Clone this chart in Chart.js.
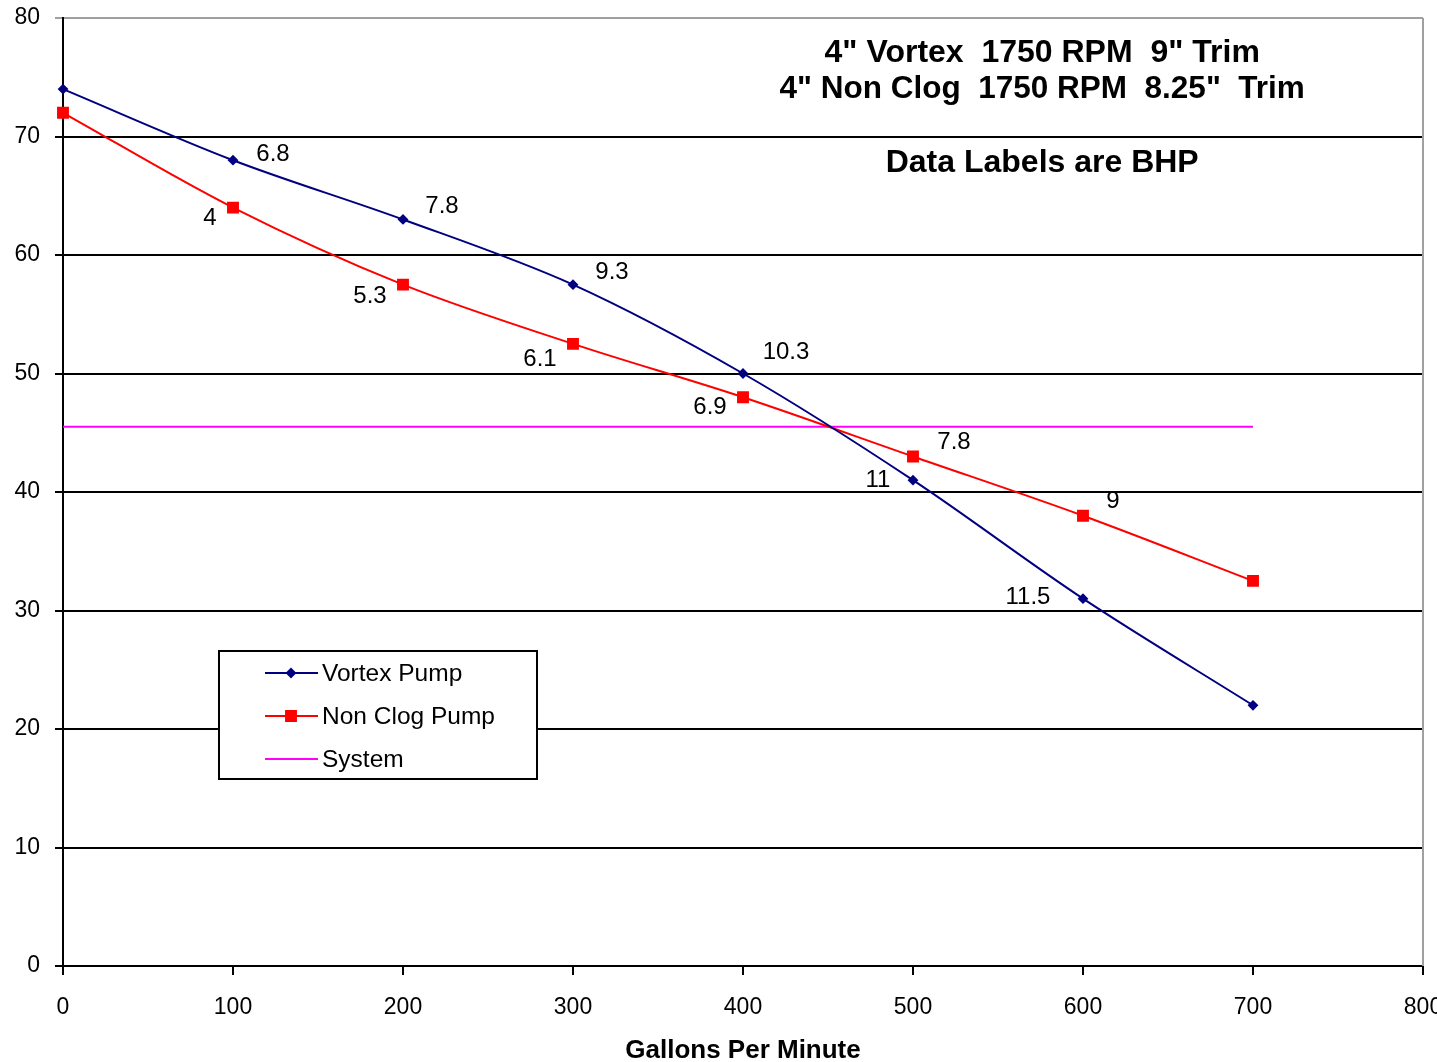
<!DOCTYPE html>
<html>
<head>
<meta charset="utf-8">
<title>Pump Curves</title>
<script src="https://cdn.jsdelivr.net/npm/chart.js@4"></script>
<style>
  html, body { margin: 0; padding: 0; background: #fff; overflow: hidden; }
  canvas { display: block; }
</style>
</head>
<body>
<canvas id="pump-chart" width="1460" height="1080"></canvas>
<script>
// flow rates (gpm) and heads (ft) for both pumps plus the system line
const gpm = [0, 100, 200, 300, 400, 500, 600, 700];
const vortexHead = [74, 68, 63, 57.5, 50, 41, 31, 22];
const nonClogHead = [72, 64, 57.5, 52.5, 48, 43, 38, 32.5];
const systemHead = [45.5, 45.5];
const systemGpm = [0, 700];

// brake horsepower shown next to each point
const vortexBhp = [null, 6.8, 7.8, 9.3, 10.3, 11, 11.5, null];
const nonClogBhp = [null, 4, 5.3, 6.1, 6.9, 7.8, 9, null];

const xTicks = [0, 100, 200, 300, 400, 500, 600, 700, 800];
const yTicks = [0, 10, 20, 30, 40, 50, 60, 70, 80];

const titleLines = ['4" Vortex  1750 RPM  9" Trim', '4" Non Clog  1750 RPM  8.25"  Trim'];
const noteText = 'Data Labels are BHP';

// where each bhp label sits relative to its point
const vortexLabelOffset = [null, [40, -6], [39, -13], [39, -12], [43, -21], [-35, 0], [-55, -1], null];
const nonClogLabelOffset = [null, [-23, 11], [-33, 12], [-33, 15], [-33, 10], [41, -14], [30, -14], null];

const FONT = '"Liberation Sans", Arial, sans-serif';

const toXY = (xs, ys) => xs.map((x, i) => ({ x: x, y: ys[i] }));

// frame, titles, bhp labels and the boxed legend
const extras = {
  id: 'extras',
  beforeDatasetsDraw(chart) {
    const { ctx, chartArea: a } = chart;
    ctx.save();
    ctx.strokeStyle = '#a0a0a0';
    ctx.lineWidth = 2;
    ctx.beginPath();
    ctx.moveTo(a.right, a.top);
    ctx.lineTo(a.right, a.bottom);
    ctx.stroke();
    ctx.restore();
  },
  afterDatasetsDraw(chart) {
    const { ctx } = chart;
    const xs = chart.scales.x;
    ctx.save();

    // bhp data labels
    ctx.font = '24px ' + FONT;
    ctx.fillStyle = '#000';
    ctx.textAlign = 'center';
    ctx.textBaseline = 'middle';
    [[0, vortexBhp, vortexLabelOffset], [1, nonClogBhp, nonClogLabelOffset]].forEach(([di, vals, offs]) => {
      const pts = chart.getDatasetMeta(di).data;
      vals.forEach((v, i) => {
        if (v === null) return;
        ctx.fillText(String(v), pts[i].x + offs[i][0], pts[i].y + offs[i][1]);
      });
    });

    // heading text
    const cx = xs.getPixelForValue(576);
    ctx.font = 'bold 32px ' + FONT;
    ctx.fillText(titleLines[0], cx, 53);
    ctx.font = 'bold 31.5px ' + FONT;
    ctx.fillText(titleLines[1], cx, 89);
    ctx.font = 'bold 32px ' + FONT;
    ctx.fillText(noteText, cx, 163);

    // legend box
    const lx = 219, ly = 651, lw = 318, lh = 128;
    ctx.fillStyle = '#fff';
    ctx.fillRect(lx, ly, lw, lh);
    ctx.strokeStyle = '#000';
    ctx.lineWidth = 2;
    ctx.strokeRect(lx, ly, lw, lh);
    ctx.font = '24.5px ' + FONT;
    ctx.textAlign = 'left';
    chart.data.datasets.forEach((ds, i) => {
      const y = ly + 22 + i * 43;
      ctx.strokeStyle = ds.borderColor;
      ctx.lineWidth = ds.borderWidth;
      ctx.beginPath();
      ctx.moveTo(lx + 46, y);
      ctx.lineTo(lx + 99, y);
      ctx.stroke();
      if (ds.pointRadius > 0) {
        Chart.helpers.drawPoint(ctx, {
          pointStyle: ds.pointStyle,
          radius: ds.pointRadius,
          borderWidth: 1,
          rotation: 0
        }, lx + 72, y);
        ctx.fillStyle = ds.pointBackgroundColor;
        ctx.fill();
      }
      ctx.fillStyle = '#000';
      ctx.fillText(ds.label, lx + 103, y + 1);
    });
    ctx.restore();
  }
};

const config = {
  type: 'line',
  data: {
    datasets: [
      {
        label: 'Vortex Pump',
        data: toXY(gpm, vortexHead),
        borderColor: '#000080',
        backgroundColor: '#000080',
        pointBackgroundColor: '#000080',
        pointBorderColor: '#000080',
        pointStyle: 'rectRot',
        pointRadius: 4,
        borderWidth: 2,
        tension: 0.33,
        clip: false,
        fill: false
      },
      {
        label: 'Non Clog Pump',
        data: toXY(gpm, nonClogHead),
        borderColor: '#ff0000',
        backgroundColor: '#ff0000',
        pointBackgroundColor: '#ff0000',
        pointBorderColor: '#ff0000',
        pointStyle: 'rect',
        pointRadius: 7,
        borderWidth: 2,
        tension: 0.33,
        clip: false,
        fill: false
      },
      {
        label: 'System',
        data: toXY(systemGpm, systemHead),
        borderColor: '#ff00ff',
        backgroundColor: '#ff00ff',
        pointRadius: 0,
        borderWidth: 2,
        fill: false
      }
    ]
  },
  options: {
    responsive: false,
    animation: false,
    layout: { padding: { left: 0, top: 18, right: 37, bottom: 0 } },
    plugins: {
      legend: { display: false },
      tooltip: { enabled: false }
    },
    scales: {
      x: {
        type: 'linear',
        min: 0,
        max: 800,
        afterBuildTicks: s => { s.ticks = xTicks.map(v => ({ value: v })); },
        afterFit: s => {
          s.height = 1080 - 966;
          s.paddingLeft = 0;
          s.paddingRight = 0;
        },
        ticks: { color: '#000', font: { family: FONT, size: 23 }, padding: 19, maxRotation: 0 },
        grid: { drawOnChartArea: false, drawTicks: true, tickLength: 9, color: '#000', lineWidth: 2 },
        border: { color: '#000', width: 2 },
        title: {
          display: true,
          text: 'Gallons Per Minute',
          color: '#000',
          font: { family: FONT, size: 26, weight: 'bold' },
          padding: { top: 10, bottom: 14 }
        }
      },
      y: {
        min: 0,
        max: 80,
        afterBuildTicks: s => { s.ticks = yTicks.map(v => ({ value: v })); },
        afterFit: s => {
          s.width = 63;
          s.paddingTop = 0;
          s.paddingBottom = 0;
        },
        ticks: { color: '#000', font: { family: FONT, size: 23 }, padding: 15 },
        grid: {
          color: c => (c.tick && c.tick.value === 80 ? '#a0a0a0' : '#000'),
          lineWidth: 2,
          tickLength: 8
        },
        border: { color: '#000', width: 2 }
      }
    }
  },
  plugins: [extras]
};

const ctx = document.getElementById('pump-chart').getContext('2d');
const pumpChart = new Chart(ctx, config);
</script>
</body>
</html>
